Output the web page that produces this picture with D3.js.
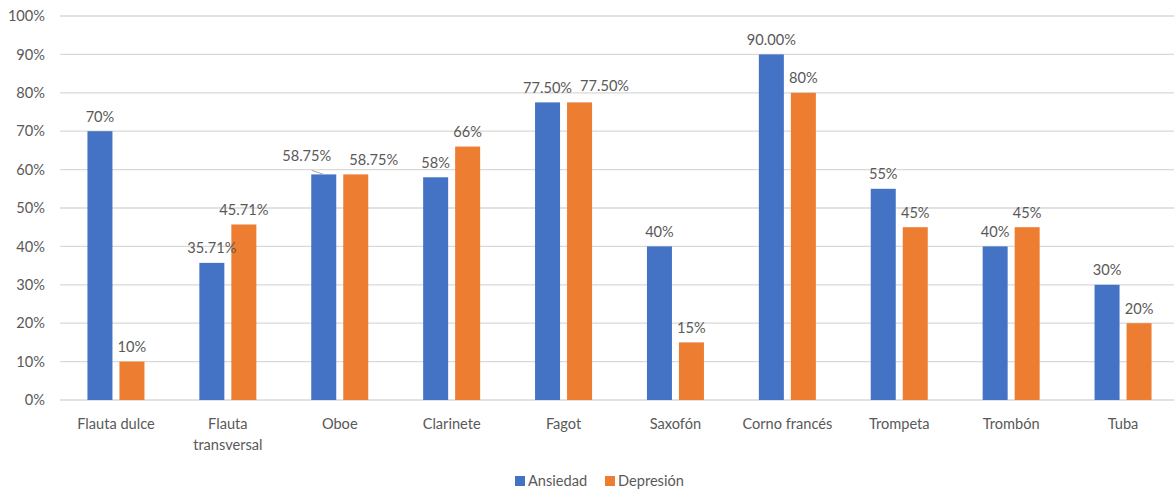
<!DOCTYPE html>
<html lang="es">
<head>
<meta charset="utf-8">
<script src="https://cdn.jsdelivr.net/npm/d3@7"></script>
<style>
  html, body { margin: 0; padding: 0; background: #fff; }
  svg { display: block; }
  text { font-family: Lato, "Noto Sans", sans-serif; fill: #595959; }
</style>
</head>
<body>
<svg id="chart" width="1174" height="491"></svg>
<script>
// Instrumentos de viento
const categories = [
  "Flauta dulce", "Flauta transversal", "Oboe", "Clarinete", "Fagot",
  "Saxofón", "Corno francés", "Trompeta", "Trombón", "Tuba"
];
const seriesNames = ["Ansiedad", "Depresión"];
const ansiedad  = [0.70, 0.3571, 0.5875, 0.58, 0.775, 0.40, 0.90, 0.55, 0.40, 0.30];
const depresion = [0.10, 0.4571, 0.5875, 0.66, 0.775, 0.15, 0.80, 0.45, 0.45, 0.20];
const ansiedadLabels  = ["70%", "35.71%", "58.75%", "58%", "77.50%", "40%", "90.00%", "55%", "40%", "30%"];
const depresionLabels = ["10%", "45.71%", "58.75%", "66%", "77.50%", "15%", "80%", "45%", "45%", "20%"];
const yTicks = [0, 0.1, 0.2, 0.3, 0.4, 0.5, 0.6, 0.7, 0.8, 0.9, 1.0];

const colors = { "Ansiedad": "#4472C4", "Depresión": "#ED7D31" };

// Labels nudged sideways where they would otherwise collide
const labelNudge = {
  "Oboe|Ansiedad": { dx: -17, dy: -4, leader: true },
  "Oboe|Depresión": { dx: 18, dy: 0 },
  "Fagot|Depresión": { dx: 25, dy: -2 }
};

const svg = d3.select("#chart");
const fontSize = 14.6;

const x0 = d3.scaleBand().domain(categories).range([60, 1179]).paddingInner(0).paddingOuter(0);
const x1 = d3.scaleBand().domain(seriesNames).range([0, 57]).paddingInner(0.21875);
const y = d3.scaleLinear().domain([0, 1]).range([400, 16]);

// Gridlines
svg.append("g")
  .selectAll("line")
  .data(yTicks)
  .join("line")
  .attr("x1", 60).attr("x2", 1174)
  .attr("y1", d => y(d)).attr("y2", d => y(d))
  .attr("stroke", "#d9d9d9")
  .attr("stroke-width", 1.3);

// Y axis labels
const yAxis = d3.axisLeft(y).tickValues(yTicks).tickFormat(d3.format(".0%")).tickSize(0).tickPadding(0);
const gy = svg.append("g").attr("transform", "translate(45,0)").call(yAxis);
gy.select(".domain").remove();
gy.selectAll("text")
  .attr("font-family", null)
  .style("font-size", fontSize + "px")
  .style("fill", "#595959");

// Rows combining series per category
const rows = categories.map((c, i) => ({
  cat: c,
  bars: [
    { series: "Ansiedad", value: ansiedad[i], label: ansiedadLabels[i] },
    { series: "Depresión", value: depresion[i], label: depresionLabels[i] }
  ]
}));

const groups = svg.append("g")
  .selectAll("g")
  .data(rows)
  .join("g")
  .attr("transform", d => `translate(${x0(d.cat) + x0.bandwidth() / 2 - 28.5},0)`);

groups.selectAll("rect")
  .data(d => d.bars)
  .join("rect")
  .attr("x", d => x1(d.series))
  .attr("width", x1.bandwidth())
  .attr("y", d => y(d.value))
  .attr("height", d => y(0) - y(d.value))
  .attr("fill", d => colors[d.series]);

// Value labels
groups.each(function (row) {
  const g = d3.select(this);
  row.bars.forEach(b => {
    const n = labelNudge[row.cat + "|" + b.series] || { dx: 0, dy: 0 };
    const cx = x1(b.series) + x1.bandwidth() / 2;
    const top = y(b.value);
    const tx = cx + n.dx;
    const ty = top - 9.5 + n.dy;
    if (n.leader) {
      g.append("line")
        .attr("x1", cx).attr("y1", top)
        .attr("x2", cx - 12).attr("y2", top - 4)
        .attr("stroke", "#a6a6a6").attr("stroke-width", 1);
    }
    g.append("text")
      .attr("x", tx).attr("y", ty)
      .attr("text-anchor", "middle")
      .style("font-size", fontSize + "px")
      .text(b.label);
  });
});

// Category labels, wrapped onto two lines where needed
const catLines = { "Flauta transversal": ["Flauta", "transversal"] };
const gx = svg.append("g");
categories.forEach(c => {
  const lines = catLines[c] || [c];
  const t = gx.append("text")
    .attr("x", x0(c) + x0.bandwidth() / 2)
    .attr("y", 429)
    .attr("text-anchor", "middle")
    .style("font-size", fontSize + "px");
  lines.forEach((ln, k) => {
    t.append("tspan")
      .attr("x", x0(c) + x0.bandwidth() / 2)
      .attr("dy", k === 0 ? 0 : 20.5)
      .text(ln);
  });
});

// Legend
const legendItems = [
  { name: "Ansiedad", x: 515 },
  { name: "Depresión", x: 605 }
];
const lg = svg.append("g");
legendItems.forEach(it => {
  lg.append("rect")
    .attr("x", it.x).attr("y", 476)
    .attr("width", 10).attr("height", 10)
    .attr("fill", colors[it.name]);
  lg.append("text")
    .attr("x", it.x + 13).attr("y", 486)
    .style("font-size", fontSize + "px")
    .text(it.name);
});
</script>
</body>
</html>
